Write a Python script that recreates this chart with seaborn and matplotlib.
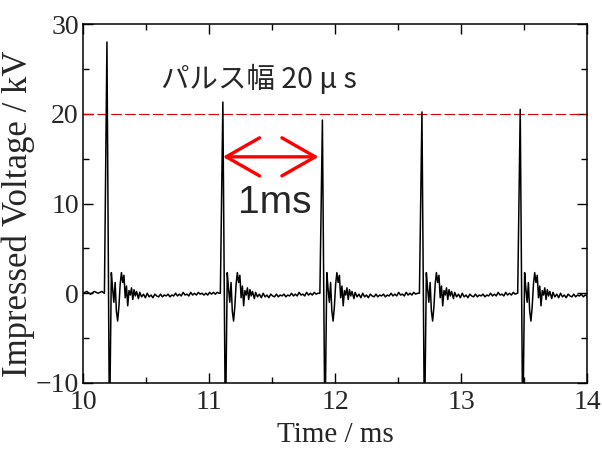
import numpy as np
import pandas as pd
import seaborn as sns
import matplotlib
matplotlib.use("Agg")
import matplotlib.pyplot as plt
from matplotlib.patches import FancyArrowPatch
from matplotlib.ticker import MultipleLocator

# pulse peaks (ms, kV)
peak_t = [10.19, 11.11, 11.90, 12.69, 13.47]
peak_v = [28.0, 21.3, 19.3, 20.2, 20.5]

# ringing + noise after each pulse, offsets from the peak (ms) and voltage (kV)
ring_dt = [0.02, 0.035, 0.045, 0.055, 0.065, 0.075, 0.085, 0.095, 0.105, 0.115,
           0.125, 0.135, 0.145, 0.155, 0.165, 0.175, 0.185, 0.195, 0.205, 0.215,
           0.225, 0.235, 0.25, 0.26, 0.275, 0.29, 0.305, 0.32, 0.335, 0.35,
           0.365, 0.38, 0.395, 0.41, 0.425, 0.44, 0.455, 0.47, 0.485, 0.50,
           0.515, 0.53, 0.545, 0.56, 0.575, 0.59, 0.605, 0.62, 0.635, 0.65,
           0.665, 0.68, 0.695, 0.71, 0.725, 0.74, 0.755]
ring_v = [-16.0, 2.3, 0.5, -1.0, 1.2, -2.0, -3.1, -1.5, 1.0, 2.3,
          1.2, 2.0, -0.5, 0.8, -1.4, 0.3, -0.2, 0.6, -0.7, 0.4,
          -0.3, 0.2, -0.6, 0.1, -0.4, -0.1, -0.5, 0.0, -0.4, -0.2,
          -0.5, -0.1, -0.3, -0.4, -0.1, -0.4, -0.2, -0.3, -0.1, -0.4,
          -0.2, -0.3, 0.0, -0.3, -0.1, -0.3, 0.1, -0.2, -0.1, -0.3,
          0.1, -0.2, 0.0, -0.2, 0.1, -0.1, 0.0]
rise_dt = 0.02
base_v = 0.0

# baseline before the first pulse and in the longer first gap
lead_t = [10.0, 10.03, 10.06, 10.09, 10.12, 10.15]
lead_v = [0.0, 0.2, -0.1, 0.2, 0.0, 0.2]
gap_t = [10.96, 10.975, 10.99, 11.005, 11.02, 11.035, 11.05, 11.065, 11.08]
gap_v = [-0.2, 0.0, -0.2, 0.1, -0.1, 0.1, -0.1, 0.1, 0.0]

x_ticks = [10, 11, 12, 13, 14]
y_ticks = [-10, 0, 10, 20, 30]

# assemble trace
t = list(lead_t)
v = list(lead_v)
for i, (pt, pv) in enumerate(zip(peak_t, peak_v)):
    t += [pt - rise_dt, pt]
    v += [base_v, pv]
    t += [pt + d for d in ring_dt]
    v += ring_v
    if i == 0:
        t += gap_t
        v += gap_v
df = pd.DataFrame({"Time": t, "Voltage": v})

sns.set_style("ticks")
plt.rcParams["font.family"] = ["Liberation Serif", "DejaVu Serif"]

fig = plt.figure(figsize=(6.02, 4.51), dpi=100)
ax = fig.add_axes([83 / 602, 1 - 383 / 451, 504 / 602, 359 / 451])

ax.axhline(20, color="#e00000", lw=0.8, ls=(0, (9.5, 3)), zorder=1)
sns.lineplot(data=df, x="Time", y="Voltage", ax=ax, color="black", lw=1.1,
             estimator=None, sort=False, zorder=2)

ax.set_xlim(10, 14)
ax.set_ylim(-10, 30)
ax.set_xticks(x_ticks)
ax.set_yticks(y_ticks)
ax.xaxis.set_minor_locator(MultipleLocator(0.5))
ax.yaxis.set_minor_locator(MultipleLocator(5))
ax.tick_params(which="both", direction="in", top=True, right=True,
               width=1.0, color="black", labelsize=20)
ax.tick_params(which="major", length=7)
ax.tick_params(which="minor", length=4)
ax.tick_params(axis="y", pad=3)
ax.tick_params(axis="x", pad=5)
for s in ax.spines.values():
    s.set_linewidth(1.1)
    s.set_color("black")

ax.set_xlabel("Time / ms", fontsize=21)
ax.set_ylabel("Impressed Voltage / kV", fontsize=25)
ax.xaxis.set_label_coords(0.5, -0.11)
ax.yaxis.set_label_coords(-0.095, 0.47)

ax.text(10.62, 22.85, "パルス幅 20 μ s", fontsize=20.5,
        family=["Noto Sans CJK JP", "DejaVu Sans"], ha="left", va="baseline")
ax.text(11.23, 8.94, "1ms", fontsize=28, family=["Liberation Sans"],
        ha="left", va="baseline")

arrow = FancyArrowPatch((11.11, 15.2), (11.87, 15.2),
                        arrowstyle="<->,head_length=24,head_width=13.7",
                        mutation_scale=1, lw=2.4, color="red",
                        shrinkA=0, shrinkB=0, zorder=3)
ax.add_patch(arrow)

fig.savefig("out.png", dpi=100)
